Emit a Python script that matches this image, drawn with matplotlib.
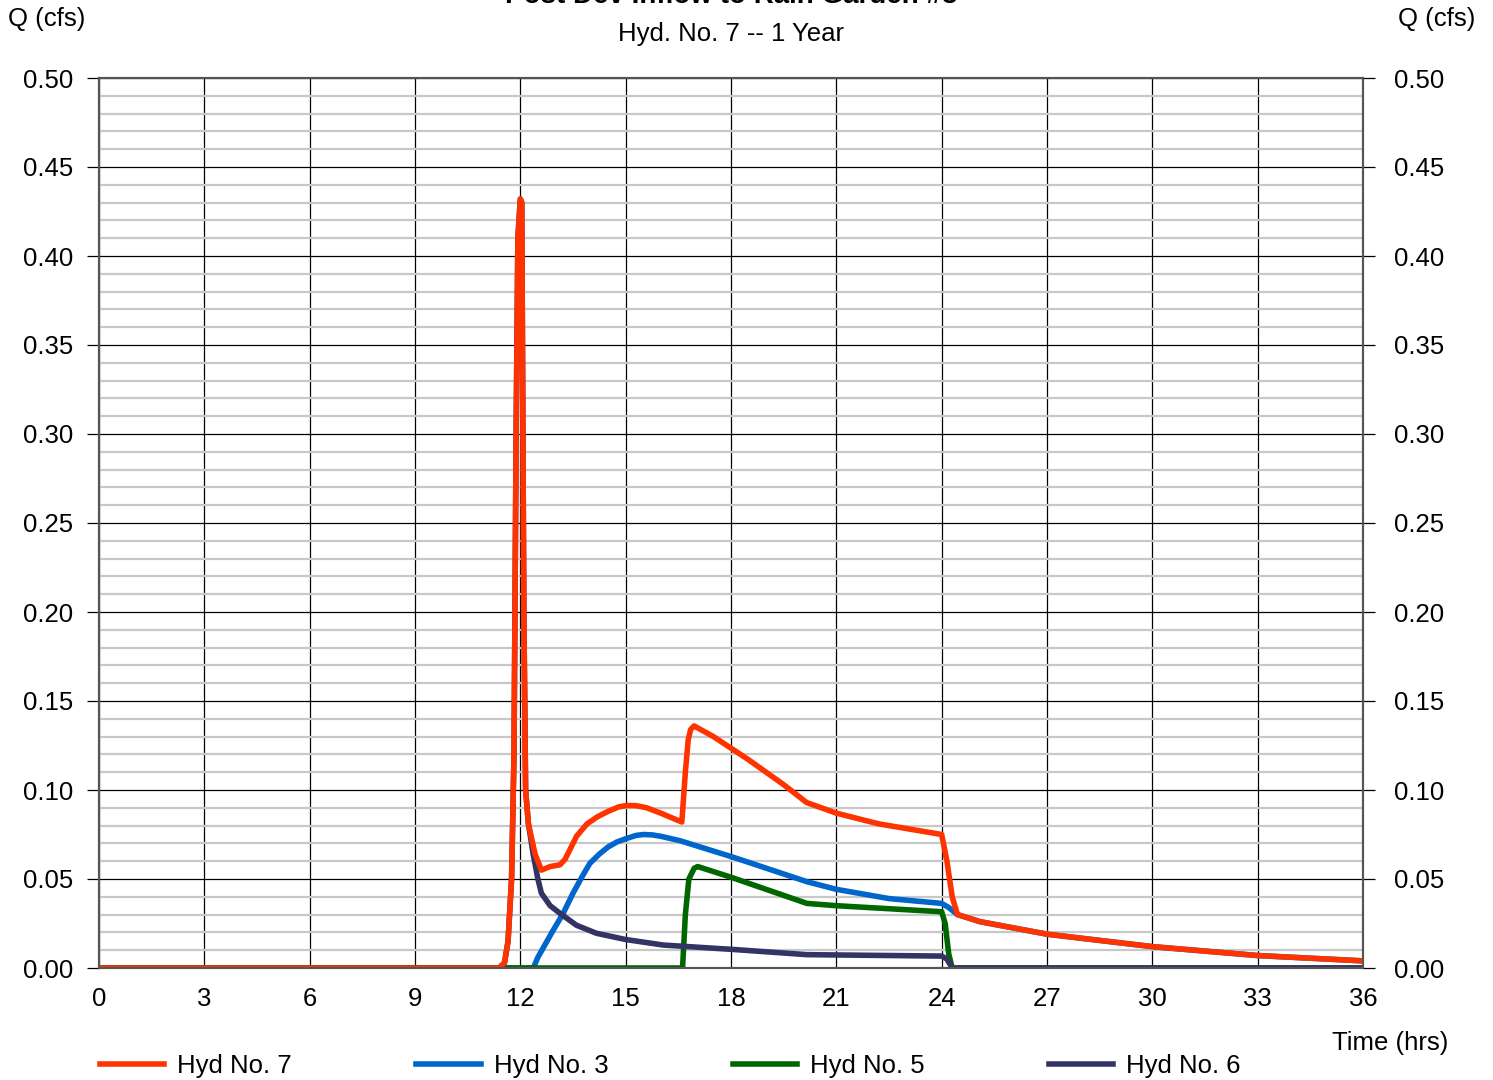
import matplotlib
matplotlib.use("Agg")
import matplotlib.pyplot as plt
import numpy as np

plt.rcParams['font.family'] = ['Liberation Sans', 'DejaVu Sans']

# Hyd No. 7 (total)
t7 = [0, 11.4, 11.55, 11.65, 11.75, 11.82, 11.88, 11.93, 12.0, 12.04, 12.1, 12.15, 12.23,
      12.42, 12.6, 12.85, 13.13, 13.27, 13.4, 13.6, 13.9, 14.2, 14.5, 14.8, 15.03, 15.3,
      15.6, 16.0, 16.6,
      16.7, 16.78, 16.85, 16.95, 17.5, 18.5, 19.5, 20.15, 21.0, 22.2, 24.0,
      24.15, 24.3, 24.45, 25.1, 27, 30, 33, 36]
q7 = [0, 0, 0.003, 0.015, 0.05, 0.12, 0.3, 0.41, 0.432, 0.43, 0.2, 0.1, 0.081,
      0.064, 0.055, 0.057, 0.058, 0.061, 0.066, 0.074, 0.081, 0.085, 0.088, 0.0905, 0.0913, 0.0912,
      0.09, 0.087, 0.082,
      0.11, 0.128, 0.134, 0.136, 0.13, 0.117, 0.103, 0.093, 0.087, 0.081, 0.075,
      0.06, 0.04, 0.03, 0.026, 0.019, 0.012, 0.007, 0.004]

# Hyd No. 3
t3 = [0, 12.37, 12.5, 12.7, 12.9, 13.22, 13.5, 13.75, 13.98, 14.25, 14.5, 14.75, 15.03,
      15.3, 15.5, 15.75, 16.0, 16.55,
      18.02, 20.16, 21.0, 22.5, 24.0, 24.2, 24.45, 25.1, 27, 30, 33, 36]
q3 = [0, 0, 0.006, 0.013, 0.02, 0.0307, 0.042, 0.051, 0.0588, 0.064, 0.068, 0.0708, 0.0728,
      0.0745, 0.075, 0.0748, 0.074, 0.0715,
      0.0625, 0.0485, 0.0442, 0.039, 0.0363, 0.034, 0.03, 0.026, 0.019, 0.012, 0.007, 0.004]

# Hyd No. 5
t5 = [0, 16.62, 16.7, 16.8, 16.95, 17.05, 18.0, 20.16, 21.0, 24.0, 24.1, 24.2, 24.3, 36]
q5 = [0, 0, 0.03, 0.05, 0.056, 0.057, 0.051, 0.0363, 0.035, 0.0316, 0.025, 0.008, 0, 0]

# Hyd No. 6
t6 = [0, 11.4, 11.55, 11.65, 11.75, 11.82, 11.88, 11.93, 12.0, 12.04, 12.1, 12.15, 12.23,
      12.37, 12.5, 12.6, 12.85, 13.13, 13.6, 14.17, 15.0, 16.07, 18.0, 20.16, 24.0, 24.15, 24.3, 36]
q6 = [0, 0, 0.003, 0.015, 0.05, 0.12, 0.3, 0.41, 0.432, 0.43, 0.2, 0.1, 0.081,
      0.0635, 0.05, 0.042, 0.035, 0.0307, 0.024, 0.0195, 0.016, 0.0129, 0.0105, 0.0075, 0.0067,
      0.005, 0, 0]

xticks = np.arange(0, 37, 3)
yticks = np.arange(0, 0.501, 0.05)

fig = plt.figure(figsize=(14.93, 10.8), dpi=100)
ax = fig.add_axes([99 / 1493, 112 / 1080, 1264 / 1493, 890 / 1080])

lw = 4
l7, = ax.plot(t7, q7, color='#FF3300', lw=lw, zorder=6, label='Hyd No. 7')
l3, = ax.plot(t3, q3, color='#0066CC', lw=lw, zorder=3, label='Hyd No. 3')
l5, = ax.plot(t5, q5, color='#006600', lw=lw, zorder=4, label='Hyd No. 5')
l6, = ax.plot(t6, q6, color='#333366', lw=lw, zorder=5, label='Hyd No. 6')

ax.set_xlim(0, 36)
ax.set_ylim(0, 0.5)
ax.set_xticks(xticks)
ax.set_yticks(yticks)
ax.set_yticks(np.arange(0, 0.501, 0.01), minor=True)
ax.yaxis.set_major_formatter(matplotlib.ticker.FormatStrFormatter('%.2f'))

ax.grid(which='minor', axis='y', color='#C8C8C8', lw=1.6, zorder=1)
ax.grid(which='major', axis='y', color='black', lw=0.9, zorder=2)
ax.grid(which='major', axis='x', color='black', lw=0.9, zorder=2)

ax.tick_params(axis='y', which='major', direction='out', length=8.5, width=0.9,
               labelsize=18.5, pad=10)
ax.tick_params(axis='y', which='minor', length=0)
ax.tick_params(axis='x', length=0, labelsize=18.5, pad=14)

# right-hand axis labels
ax2 = ax.twinx()
ax2.set_ylim(0, 0.5)
ax2.set_yticks(yticks)
ax2.yaxis.set_major_formatter(matplotlib.ticker.FormatStrFormatter('%.2f'))
ax2.tick_params(axis='y', direction='out', length=8.5, width=0.9, labelsize=18.5, pad=13.5)

for a in (ax, ax2):
    for s in a.spines.values():
        s.set_color('#555555')
        s.set_linewidth(1.5)

fig.text(0.49, 1 - 3 / 1080, 'Post Dev Inflow to Rain Garden #3', ha='center', va='baseline',
         fontsize=20, fontweight='bold')
fig.text(731 / 1493, 1 - 34 / 1080, 'Hyd. No. 7 -- 1 Year', ha='center', va='center', fontsize=18.5)
fig.text(8 / 1493, 1 - 19 / 1080, 'Q (cfs)', ha='left', va='center', fontsize=18.5)
fig.text(1475 / 1493, 1 - 19 / 1080, 'Q (cfs)', ha='right', va='center', fontsize=18.5)
fig.text(1448 / 1493, 1 - 1043 / 1080, 'Time (hrs)', ha='right', va='center', fontsize=18.5)

fig.legend(handles=[l7, l3, l5, l6], loc='center left', bbox_to_anchor=(77 / 1493, 14 / 1080),
           ncol=4, frameon=False, fontsize=18.5, handlelength=2.5, handletextpad=0.5,
           columnspacing=4.85)

fig.savefig('out.png', dpi=100)
